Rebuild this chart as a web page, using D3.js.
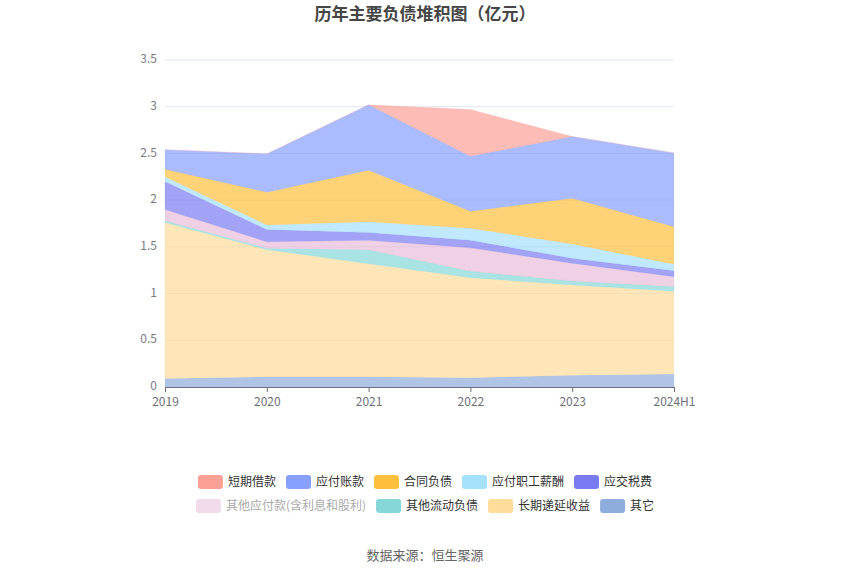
<!DOCTYPE html>
<html>
<head>
<meta charset="utf-8">
<script src="https://cdn.jsdelivr.net/npm/d3@7"></script>
<style>
  body { margin: 0; background: #fff; }
  text { font-family: "Noto Sans CJK SC", "Noto Sans", sans-serif; }
</style>
</head>
<body>
<div id="chart"></div>
<script>
const years = ['2019', '2020', '2021', '2022', '2023', '2024H1'];
const seriesNames = ['其它', '长期递延收益', '其他流动负债', '其他应付款(含利息和股利)', '应交税费', '应付职工薪酬', '合同负债', '应付账款', '短期借款'];
const other      = [0.09, 0.11, 0.11, 0.10, 0.125, 0.14];
const deferred   = [1.67, 1.36, 1.21, 1.07, 0.967, 0.885];
const otherCur   = [0.02, 0.015, 0.15, 0.07, 0.043, 0.05];
const otherPay   = [0.12, 0.07, 0.10, 0.25, 0.19, 0.105];
const taxes      = [0.30, 0.13, 0.085, 0.08, 0.053, 0.065];
const salary     = [0.05, 0.05, 0.115, 0.13, 0.153, 0.07];
const contract   = [0.08, 0.35, 0.55, 0.18, 0.49, 0.40];
const payable    = [0.21, 0.41, 0.70, 0.59, 0.66, 0.79];
const shortLoan  = [0, 0, 0, 0.50, 0, 0];
const yTicks = [0, 0.5, 1, 1.5, 2, 2.5, 3, 3.5];

const legendOrder = ['短期借款', '应付账款', '合同负债', '应付职工薪酬', '应交税费', '其他应付款(含利息和股利)', '其他流动负债', '长期递延收益', '其它'];
const colors = {
  '短期借款': '#fc9f95',
  '应付账款': '#879ffe',
  '合同负债': '#fec03d',
  '应付职工薪酬': '#a5e0fd',
  '应交税费': '#7a7af2',
  '其他应付款(含利息和股利)': '#f2dcec',
  '其他流动负债': '#85d7d8',
  '长期递延收益': '#fedc9a',
  '其它': '#8eaddc'
};
// the pink area is drawn a bit stronger than its legend swatch
const areaColors = Object.assign({}, colors, { '其他应付款(含利息和股利)': '#e8bcd8' });

const allValues = [other, deferred, otherCur, otherPay, taxes, salary, contract, payable, shortLoan];
const table = years.map((y, i) => {
  const row = { year: y };
  seriesNames.forEach((s, k) => { row[s] = allValues[k][i]; });
  return row;
});

const W = 850, H = 575;
const margin = { top: 60, right: 176, bottom: 188, left: 165 };

const svg = d3.select('#chart').append('svg')
  .attr('width', W).attr('height', H);

const x = d3.scalePoint().domain(years).range([margin.left, W - margin.right]);
const y = d3.scaleLinear().domain([0, 3.5]).range([H - margin.bottom, margin.top]);

// grid
svg.append('g').selectAll('line')
  .data(yTicks.filter(d => d > 0))
  .join('line')
  .attr('x1', margin.left).attr('x2', W - margin.right)
  .attr('y1', d => y(d)).attr('y2', d => y(d))
  .attr('stroke', '#e0e6f1').attr('stroke-width', 1);

const stacked = d3.stack().keys(seriesNames)(table);
const area = d3.area()
  .x(d => x(d.data.year))
  .y0(d => y(d[0]))
  .y1(d => y(d[1]));

svg.append('g').selectAll('path')
  .data(stacked)
  .join('path')
  .attr('d', area)
  .attr('fill', d => areaColors[d.key])
  .attr('fill-opacity', 0.7)
  .attr('stroke', d => areaColors[d.key])
  .attr('stroke-opacity', 0.3)
  .attr('stroke-width', 0.5);

// y axis labels
svg.append('g').selectAll('text')
  .data(yTicks)
  .join('text')
  .attr('x', margin.left - 8)
  .attr('y', d => y(d) - 1)
  .attr('dy', '0.35em')
  .attr('text-anchor', 'end')
  .attr('font-size', 12)
  .attr('fill', '#7a7c84')
  .text(d => d);

// x axis
const xAxis = svg.append('g')
  .attr('transform', `translate(0,${H - margin.bottom})`)
  .call(d3.axisBottom(x).tickSize(5).tickPadding(5));
xAxis.select('.domain').attr('stroke', '#6e7079');
xAxis.selectAll('.tick line').attr('stroke', '#6e7079');
xAxis.selectAll('.tick text')
  .attr('font-size', 12)
  .attr('fill', '#6e7079')
  .style('font-family', '"Noto Sans CJK SC", sans-serif');

// title
svg.append('text')
  .attr('x', W / 2).attr('y', 20)
  .attr('text-anchor', 'middle')
  .attr('font-size', 17)
  .attr('font-weight', 'bold')
  .attr('fill', '#464646')
  .text('历年主要负债堆积图（亿元）');

// legend
const rows = [legendOrder.slice(0, 5), legendOrder.slice(5)];
const rowY = [482, 506];
rows.forEach((items, r) => {
  const g = svg.append('g');
  let cx = 0;
  items.forEach(name => {
    const it = g.append('g').attr('transform', `translate(${cx},0)`);
    it.append('rect')
      .attr('x', 0).attr('y', -7)
      .attr('width', 25).attr('height', 14)
      .attr('rx', 3)
      .attr('fill', colors[name]);
    const t = it.append('text')
      .attr('x', 30).attr('dy', '0.35em')
      .attr('font-size', 12)
      .attr('fill', name.startsWith('其他应付款') ? '#aaa' : '#333')
      .text(name);
    cx += 30 + t.node().getComputedTextLength() + 10;
  });
  const total = cx - 10;
  g.attr('transform', `translate(${W / 2 - total / 2},${rowY[r]})`);
});

// source
svg.append('text')
  .attr('x', W / 2).attr('y', 560)
  .attr('text-anchor', 'middle')
  .attr('font-size', 13)
  .attr('fill', '#666')
  .text('数据来源：恒生聚源');
</script>
</body>
</html>
